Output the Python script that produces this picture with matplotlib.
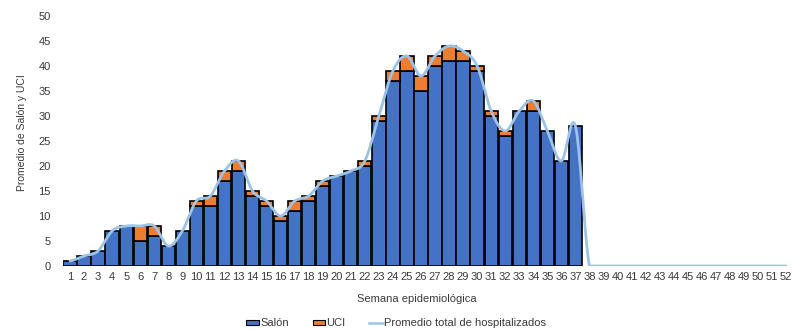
import numpy as np
import matplotlib
matplotlib.use("Agg")
import matplotlib.pyplot as plt
from matplotlib.patches import Rectangle
from matplotlib.lines import Line2D

plt.rcParams['font.family'] = ['Liberation Sans', 'DejaVu Sans']

semanas = list(range(1, 53))
salon = [1, 2, 3, 7, 8, 5, 6, 4, 7, 12, 12, 17, 19, 14, 12, 9, 11, 13, 16, 18,
         19, 20, 29, 37, 39, 35, 40, 41, 41, 39, 30, 26, 31, 31, 27, 21, 28] + [0] * 15
uci = [0, 0, 0, 0, 0, 3, 2, 0, 0, 1, 2, 2, 2, 1, 1, 1, 2, 1, 1, 0,
       0, 1, 1, 2, 3, 3, 2, 3, 2, 1, 1, 1, 0, 2, 0, 0, 0] + [0] * 15
promedio_total = [s + u for s, u in zip(salon, uci)]

C_SALON = '#4472C4'
C_UCI = '#ED7D31'
C_LINE = '#9DC3E6'
C_TEXT = '#3a3a3a'


def smooth(xs, ys, n=20):
    """Catmull-Rom spline through the points (like a spreadsheet smoothed line)."""
    xs = np.asarray(xs, float)
    ys = np.asarray(ys, float)
    px = np.concatenate([[2 * xs[0] - xs[1]], xs, [2 * xs[-1] - xs[-2]]])
    py = np.concatenate([[ys[0]], ys, [ys[-1]]])
    outx, outy = [], []
    t = np.linspace(0, 1, n, endpoint=False)
    for i in range(1, len(px) - 2):
        for arr, out in ((px, outx), (py, outy)):
            p0, p1, p2, p3 = arr[i - 1], arr[i], arr[i + 1], arr[i + 2]
            out.extend(0.5 * ((2 * p1) + (-p0 + p2) * t
                              + (2 * p0 - 5 * p1 + 4 * p2 - p3) * t ** 2
                              + (-p0 + 3 * p1 - 3 * p2 + p3) * t ** 3))
    outx.append(xs[-1])
    outy.append(ys[-1])
    return np.array(outx), np.maximum(np.array(outy), 0)


W, H = 793, 329
fig = plt.figure(figsize=(W / 100, H / 100), dpi=100)
ax = fig.add_axes([63 / W, (H - 266) / H, (W - 63) / W, 250 / H])

x = np.array(semanas)
s_arr = np.array(salon)
u_arr = np.array(uci)
# empty weeks get no bar outline
ms = s_arr > 0
mu = u_arr > 0
ax.bar(x[ms], s_arr[ms], width=0.95, color=C_SALON, edgecolor='black', linewidth=1.2, zorder=2)
ax.bar(x[mu], u_arr[mu], bottom=s_arr[mu], width=0.95, color=C_UCI, edgecolor='black',
       linewidth=1.2, zorder=2)
sx, sy = smooth(x, promedio_total)
ax.plot(sx, sy, color=C_LINE, linewidth=2.0, zorder=3, solid_capstyle='round')

ax.set_xlim(0.5, 52.5)
ax.set_ylim(0, 50)
ax.set_yticks(range(0, 51, 5))
ax.set_xticks(x)
ax.set_xticklabels([str(s) for s in semanas])
ax.tick_params(axis='both', length=0, labelsize=8, colors=C_TEXT)
ax.tick_params(axis='y', pad=9)
ax.tick_params(axis='x', pad=4)
for s in ax.spines.values():
    s.set_visible(False)

fig.text(22 / W, 1 - 133 / H, 'Promedio de Salón y UCI', rotation=90,
         ha='center', va='center', fontsize=7.5, color=C_TEXT)
fig.text(416.5 / W, 1 - 299 / H, 'Semana epidemiológica', ha='center', va='center',
         fontsize=8, color=C_TEXT)

# legend row drawn in figure pixels
ly = 322.5
def fx(px):
    return px / W
def fy(py):
    return 1 - py / H

fig.patches.append(Rectangle((fx(246), fy(325)), 13 / W, 5 / H, transform=fig.transFigure,
                             facecolor=C_SALON, edgecolor='black', linewidth=0.8))
fig.text(fx(260), fy(ly), 'Salón', ha='left', va='center', fontsize=8, color=C_TEXT)
fig.patches.append(Rectangle((fx(313), fy(325)), 12 / W, 5 / H, transform=fig.transFigure,
                             facecolor=C_UCI, edgecolor='black', linewidth=0.8))
fig.text(fx(326), fy(ly), 'UCI', ha='left', va='center', fontsize=8, color=C_TEXT)
fig.lines.append(Line2D([fx(369), fx(383)], [fy(ly), fy(ly)], transform=fig.transFigure,
                        color=C_LINE, linewidth=1.8))
fig.text(fx(384), fy(ly), 'Promedio total de hospitalizados', ha='left', va='center',
         fontsize=8, color=C_TEXT)

fig.savefig('out.png', dpi=100)
